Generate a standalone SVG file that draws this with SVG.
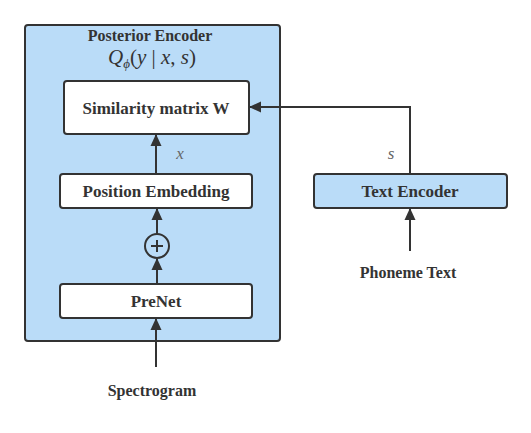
<svg xmlns="http://www.w3.org/2000/svg" width="531" height="433" viewBox="0 0 531 433">
<defs>
<style>
.box{fill:#fff;stroke:#333;stroke-width:2}
.blue{fill:#badcf8;stroke:#333;stroke-width:2}
.t{font-family:"Liberation Serif",serif;font-weight:bold;font-size:16px;fill:#333;text-anchor:middle}
.b{font-size:17px}
.m{font-family:"Liberation Serif",serif;font-style:italic;fill:#333;text-anchor:middle}
.c{fill:none;stroke:#333;stroke-width:2}
</style>
<marker id="ah" markerWidth="12" markerHeight="13" viewBox="0 0 12 13" refX="11" refY="6.5" orient="auto" markerUnits="userSpaceOnUse">
<path d="M0,1 L12,6.5 L0,12 Z" fill="#333"/>
</marker>
</defs>
<rect width="531" height="433" fill="#fff"/>
<g id="posterior-encoder">
<rect class="blue" x="25" y="25" width="255" height="316" rx="3"/>
<text class="t" x="150" y="41">Posterior Encoder</text>
<text class="m" x="152" y="64" font-size="21">Q<tspan font-size="13" dy="4">ϕ</tspan><tspan dy="-4" font-style="normal">(</tspan>y<tspan font-style="normal"> | </tspan>x<tspan font-style="normal">, </tspan>s<tspan font-style="normal">)</tspan></text>
</g>
<g id="similarity">
<rect class="box" x="64" y="81" width="185" height="53" rx="3"/>
<text class="t b" x="156" y="114">Similarity matrix W</text>
</g>
<g id="position-embedding">
<rect class="box" x="60" y="174" width="192" height="34" rx="3"/>
<text class="t b" x="156" y="197">Position Embedding</text>
</g>
<g id="plus">
<circle cx="157" cy="246" r="12" fill="none" stroke="#333" stroke-width="2"/>
<path d="M151,246 H163 M157,240 V252" stroke="#333" stroke-width="2"/>
</g>
<g id="prenet">
<rect class="box" x="60" y="284" width="192" height="34" rx="3"/>
<text class="t b" x="156" y="307">PreNet</text>
</g>
<g id="text-encoder">
<rect class="blue" x="314" y="174" width="193" height="34" rx="3"/>
<text class="t b" x="410" y="197">Text Encoder</text>
</g>
<g id="spectrogram"><text class="t" x="152" y="396">Spectrogram</text></g>
<g id="phoneme-text"><text class="t" x="408" y="278">Phoneme Text</text></g>
<g id="connectors">
<path class="c" d="M156,367 V319" marker-end="url(#ah)"/>
<path class="c" d="M157,284 V259" marker-end="url(#ah)"/>
<path class="c" d="M157,234 V209" marker-end="url(#ah)"/>
<path class="c" d="M156,174 V135" marker-end="url(#ah)"/>
<path class="c" d="M410,174 V107 H250" marker-end="url(#ah)"/>
<path class="c" d="M410,251 V209" marker-end="url(#ah)"/>
<text class="m" x="180" y="159" font-size="17" style="fill:#666">x</text>
<text class="m" x="391" y="159" font-size="17" style="fill:#666">s</text>
</g>
</svg>
